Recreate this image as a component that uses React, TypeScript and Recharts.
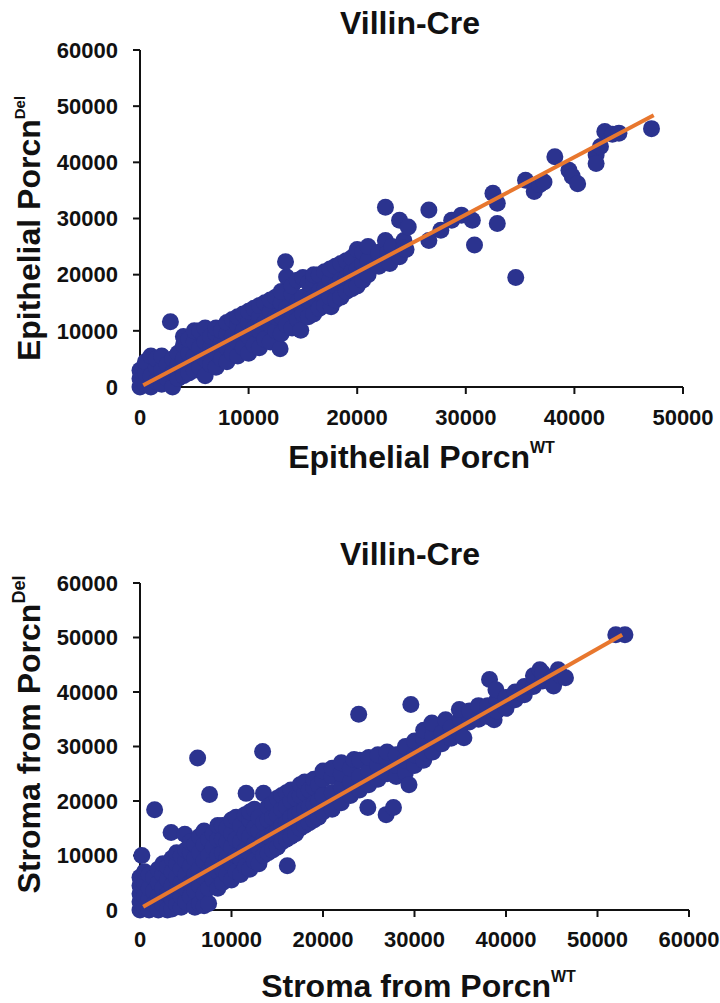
import React from 'react';
import { ScatterChart, Scatter, XAxis, YAxis, Label } from 'recharts';

const FONT = '"Liberation Sans", Arial, Helvetica, sans-serif';
const DOT = '#2B338F';
const TREND = '#E8772E';

const yTicks = [0, 10000, 20000, 30000, 40000, 50000, 60000];
const xTicksEpi = [0, 10000, 20000, 30000, 40000, 50000];
const xTicksStroma = [0, 10000, 20000, 30000, 40000, 50000, 60000];

// [Porcn WT, Porcn Del]
const epithelialPoints: [number, number][] = [
  [0, 0], [0, 1500], [0, 3000], [500, 500], [500, 2500], [500, 4500], [1000, 0], [1000, 2000], [1000, 5500],
  [1500, 1000], [1500, 3500], [1500, 5000], [2000, 500], [2000, 3000], [2000, 5500], [2500, 1500], [2500, 4000],
  [2800, 11600], [3000, 0], [3000, 2500], [3000, 5000], [3500, 1500], [3500, 4000], [3500, 6000],
  [4000, 2000], [4000, 5000], [4000, 7500], [4000, 9000], [4500, 2500], [4500, 6000], [4500, 8500],
  [5000, 3000], [5000, 5500], [5000, 8000], [5000, 10000], [5500, 3500], [5500, 7000], [5500, 10000],
  [6000, 2000], [6000, 5000], [6000, 8000], [6000, 10500], [6500, 4000], [6500, 7000], [6500, 9000],
  [7000, 3500], [7000, 6000], [7000, 9500], [7000, 10500], [7500, 5000], [7500, 8000], [7500, 10000],
  [8000, 4500], [8000, 7000], [8000, 9500], [8000, 11500], [8500, 6000], [8500, 9000], [8500, 12000],
  [9000, 5500], [9000, 8000], [9000, 11000], [9000, 12500], [9500, 7000], [9500, 10000], [9500, 13000],
  [10000, 6000], [10000, 9000], [10000, 11500], [10000, 13500], [10500, 7500], [10500, 10500], [10500, 14000],
  [11000, 7000], [11000, 10000], [11000, 12500], [11000, 14500], [11500, 8500], [11500, 11500], [11500, 15000],
  [12000, 8000], [12000, 11000], [12000, 13500], [12000, 15500], [12900, 6800], [12500, 10000], [12500, 12500],
  [12500, 16000], [13000, 9500], [13000, 12500], [13000, 15000], [13000, 17000], [13500, 11000], [13500, 14000],
  [13500, 19600], [13400, 22300], [14000, 10500], [14000, 13500], [14000, 16500], [14000, 18000],
  [14500, 12000], [14500, 15000], [14500, 19000], [14800, 10100], [15000, 13000], [15000, 16000], [15000, 19500],
  [15500, 12500], [15500, 15500], [15500, 18500], [16000, 13000], [16000, 16000], [16000, 19000], [16000, 20000],
  [16500, 14000], [16500, 17000], [16500, 20000], [17000, 14500], [17000, 17500], [17000, 20500],
  [17600, 14300], [17500, 16000], [17500, 19000], [17500, 21000], [18000, 15500], [18000, 18000], [18000, 21500],
  [18500, 16000], [18500, 19000], [18500, 22000], [19000, 17000], [19000, 19500], [19000, 22500],
  [19500, 17500], [19500, 20500], [19500, 23000], [20000, 18000], [20000, 21000], [20000, 24500],
  [20500, 19000], [20500, 22000], [20500, 24000], [21000, 20000], [21000, 22500], [21000, 25000],
  [22000, 21500], [22000, 23500], [22000, 24000], [22600, 32000], [22600, 26100], [22800, 23800],
  [23000, 22000], [23200, 25000], [23900, 23200], [24300, 26100], [24300, 24700], [23900, 29700],
  [24700, 28500], [24500, 24500], [26600, 31500], [26600, 26100], [27700, 27900], [28700, 29700],
  [29600, 30600], [30600, 29700], [30800, 25300], [32500, 34500], [32900, 32700], [32900, 29100],
  [34600, 19500], [35500, 36800], [36300, 34800], [36800, 36000], [37200, 36500], [38200, 41000],
  [39500, 38600], [39800, 37500], [40300, 36200], [42000, 41300], [42000, 39800], [42400, 42800],
  [42800, 45500], [43500, 45000], [44100, 45200], [47100, 46000],
];

const stromaPoints: [number, number][] = [
  [0, 0], [0, 1500], [0, 3000], [0, 4500], [0, 6000], [200, 10000],
  [500, 500], [500, 2500], [500, 5000], [500, 7000], [1000, 0], [1000, 2000], [1000, 4000], [1000, 6500],
  [1500, 1000], [1500, 3500], [1500, 6000], [1600, 18400], [2000, 0], [2000, 2500], [2000, 5000], [2000, 7500],
  [2500, 1000], [2500, 4000], [2500, 6500], [2500, 8500], [3000, 0], [3000, 3000], [3000, 5500], [3000, 8000],
  [3500, 200], [3500, 2000], [3500, 4500], [3500, 7000], [3500, 9500], [3400, 14200],
  [4000, 1000], [4000, 3500], [4000, 6000], [4000, 8500], [4000, 10500],
  [4500, 500], [4500, 2500], [4500, 5000], [4500, 7500], [4500, 10000], [4900, 13900],
  [5000, 1500], [5000, 4000], [5000, 6500], [5000, 9000], [5000, 11000],
  [5500, 2500], [5500, 5000], [5500, 8000], [5500, 10500], [5500, 12500], [6300, 27900],
  [6000, 500], [6000, 3500], [6000, 6500], [6000, 9500], [6000, 12000],
  [6500, 1200], [6500, 4500], [6500, 7500], [6500, 10500], [6500, 13500],
  [7000, 800], [7000, 3000], [7000, 6000], [7000, 9000], [7000, 12000], [7000, 14500], [7600, 21200],
  [7500, 1200], [7500, 4000], [7500, 7000], [7500, 10000], [7500, 13000],
  [8000, 5500], [8000, 8500], [8000, 11500], [8000, 14000],
  [8500, 4000], [8500, 7000], [8500, 10000], [8500, 13000], [8500, 15500],
  [9000, 5000], [9000, 7500], [9000, 10500], [9000, 13000], [9000, 15500],
  [9500, 6500], [9500, 9500], [9500, 12500], [9500, 15000],
  [10000, 5500], [10000, 8500], [10000, 11500], [10000, 14000], [10000, 16500],
  [10500, 7000], [10500, 10000], [10500, 13000], [10500, 17000],
  [11000, 6500], [11000, 9500], [11000, 12500], [11000, 15500], [11600, 21400],
  [11500, 8000], [11500, 11000], [11500, 14000], [11500, 17500],
  [12000, 7500], [12000, 10500], [12000, 13500], [12000, 16500], [12000, 18000],
  [12500, 9000], [12500, 12000], [12500, 15000], [12500, 18500],
  [13000, 8500], [13000, 11500], [13000, 14500], [13000, 17000], [13400, 29100], [13500, 21400],
  [13500, 10000], [13500, 13000], [13500, 16000],
  [14000, 10500], [14000, 13500], [14000, 16500], [14000, 19000],
  [14500, 11000], [14500, 14000], [14500, 17000], [14500, 19500],
  [15000, 11500], [15000, 14500], [15000, 17500], [15000, 20500],
  [15500, 12500], [15500, 15500], [15500, 18500], [15500, 21000], [16100, 8100],
  [16000, 13000], [16000, 16000], [16000, 19000], [16000, 21500],
  [16500, 13500], [16500, 17000], [16500, 20000], [16500, 22000],
  [17000, 14000], [17000, 17500], [17000, 20500],
  [17500, 15000], [17500, 18000], [17500, 21000], [17500, 23000],
  [18000, 15500], [18000, 18500], [18000, 21500], [18000, 23500],
  [18500, 16000], [18500, 19000], [18500, 22000],
  [19000, 16500], [19000, 19500], [19000, 22500], [19000, 24000],
  [19500, 17000], [19500, 20000], [19500, 23000],
  [20000, 18000], [20000, 21000], [20000, 24000], [20000, 25500],
  [21000, 18500], [21000, 21500], [21000, 24500], [21000, 26000],
  [22000, 19700], [22000, 22500], [22000, 25000], [22000, 27000],
  [23000, 21000], [23000, 23500], [23000, 26000], [23400, 27600], [23900, 35900],
  [24000, 22000], [24000, 24500], [24000, 27500], [24900, 18800],
  [25000, 23000], [25000, 25500], [25000, 28000], [26000, 24000], [26000, 26500], [26000, 28500],
  [26900, 17500], [27700, 18800], [27000, 25000], [27000, 27500], [27000, 29000],
  [28000, 24500], [28000, 26500], [28000, 28500],
  [29000, 25200], [29000, 27500], [29000, 30000], [29400, 23000], [29600, 37700],
  [30000, 26500], [30000, 28500], [30000, 31000],
  [31000, 27500], [31200, 28800], [31000, 31500], [31000, 33000],
  [32000, 29000], [32000, 32000], [31900, 34300], [33000, 30500], [33000, 32500], [33400, 34900],
  [34000, 31500], [34000, 33500], [35000, 32500], [35000, 35000], [34900, 36800], [35400, 31600],
  [36000, 34500], [36000, 36500], [37000, 35000], [37000, 37500],
  [38000, 35500], [38000, 37500], [38200, 42300], [38700, 34900],
  [39000, 36500], [39000, 38500], [38900, 40400], [40000, 37000], [40000, 39000],
  [41000, 38600], [41000, 40000], [42000, 39500], [42000, 41000],
  [43000, 41000], [43000, 43000], [43700, 44100], [44000, 42000], [44000, 43500],
  [45000, 42500], [45700, 44100], [45200, 41100], [46000, 43000], [46500, 42600],
  [52000, 50500], [53000, 50500],
];

const epithelialTrend: [number, number][] = [[300, 300], [47300, 48400]];
const stromaTrend: [number, number][] = [[350, 600], [52700, 50500]];

const toRows = (pts: [number, number][]) => pts.map(([x, y]) => ({ x, y }));

const tickStyle = { fontSize: 22, fontWeight: 700, fill: '#111', fontFamily: FONT };
const axisStroke = { stroke: '#111', strokeWidth: 2 };

const dotShape = (p: any) => <circle cx={p.cx} cy={p.cy} r={8.5} fill={DOT} />;

function xTitle(main: string, sup: string, dx: number, dy: number) {
  return (props: any) => {
    const vb = props.viewBox;
    return (
      <text x={vb.x + vb.width / 2 + dx} y={vb.y + dy} textAnchor="middle"
        fontFamily={FONT} fontWeight={700} fontSize={32} fill="#111">
        {main}
        <tspan dy={-15} fontSize={16}>{sup}</tspan>
      </text>
    );
  };
}

function yTitle(main: string, sup: string, supSize: number, dy: number) {
  return (props: any) => {
    const vb = props.viewBox;
    const cy = vb.y + vb.height / 2 + dy;
    return (
      <text transform={`translate(40,${cy}) rotate(-90)`} textAnchor="middle"
        fontFamily={FONT} fontWeight={700} fontSize={32} fill="#111">
        {main}
        <tspan dy={-15} fontSize={supSize}>{sup}</tspan>
      </text>
    );
  };
}

const titleStyle: React.CSSProperties = {
  position: 'absolute', left: 310, width: 200, textAlign: 'center',
  fontFamily: FONT, fontWeight: 700, fontSize: 32, lineHeight: '32px', color: '#111',
};

export default function App() {
  return (
    <div style={{ position: 'absolute', left: 0, top: 0, width: 720, height: 1003, background: '#fff' }}>
      <div style={{ ...titleStyle, top: 7 }}>Villin-Cre</div>
      <div style={{ position: 'absolute', left: 0, top: 0 }}>
        <ScatterChart width={720} height={490} margin={{ top: 50, right: 37, bottom: 0, left: 0 }}>
          <XAxis type="number" dataKey="x" domain={[0, 50000]} ticks={xTicksEpi} interval={0}
            height={103} axisLine={axisStroke} tickLine={axisStroke} tickSize={7} tickMargin={15} tick={tickStyle}>
            <Label content={xTitle('Epithelial Porcn', 'WT', 10, 81)} />
          </XAxis>
          <YAxis type="number" dataKey="y" domain={[0, 60000]} ticks={yTicks} interval={0}
            width={140} axisLine={axisStroke} tickLine={axisStroke} tickSize={7} tickMargin={15} tick={tickStyle}>
            <Label content={yTitle('Epithelial Porcn', 'Del', 15, 10)} />
          </YAxis>
          <Scatter data={toRows(epithelialPoints)} shape={dotShape} isAnimationActive={false} />
          <Scatter data={toRows(epithelialTrend)} line={{ stroke: TREND, strokeWidth: 4 }}
            shape={() => <g />} isAnimationActive={false} />
        </ScatterChart>
      </div>

      <div style={{ ...titleStyle, top: 538 }}>Villin-Cre</div>
      <div style={{ position: 'absolute', left: 0, top: 490 }}>
        <ScatterChart width={720} height={513} margin={{ top: 93, right: 31, bottom: 0, left: 0 }}>
          <XAxis type="number" dataKey="x" domain={[0, 60000]} ticks={xTicksStroma} interval={0}
            height={93} axisLine={axisStroke} tickLine={axisStroke} tickSize={7} tickMargin={14} tick={tickStyle}>
            <Label content={xTitle('Stroma from Porcn', 'WT', 4, 87)} />
          </XAxis>
          <YAxis type="number" dataKey="y" domain={[0, 60000]} ticks={yTicks} interval={0}
            width={140} axisLine={axisStroke} tickLine={axisStroke} tickSize={7} tickMargin={15} tick={tickStyle}>
            <Label content={yTitle('Stroma from Porcn', 'Del', 18, -12)} />
          </YAxis>
          <Scatter data={toRows(stromaPoints)} shape={dotShape} isAnimationActive={false} />
          <Scatter data={toRows(stromaTrend)} line={{ stroke: TREND, strokeWidth: 4 }}
            shape={() => <g />} isAnimationActive={false} />
        </ScatterChart>
      </div>
    </div>
  );
}
